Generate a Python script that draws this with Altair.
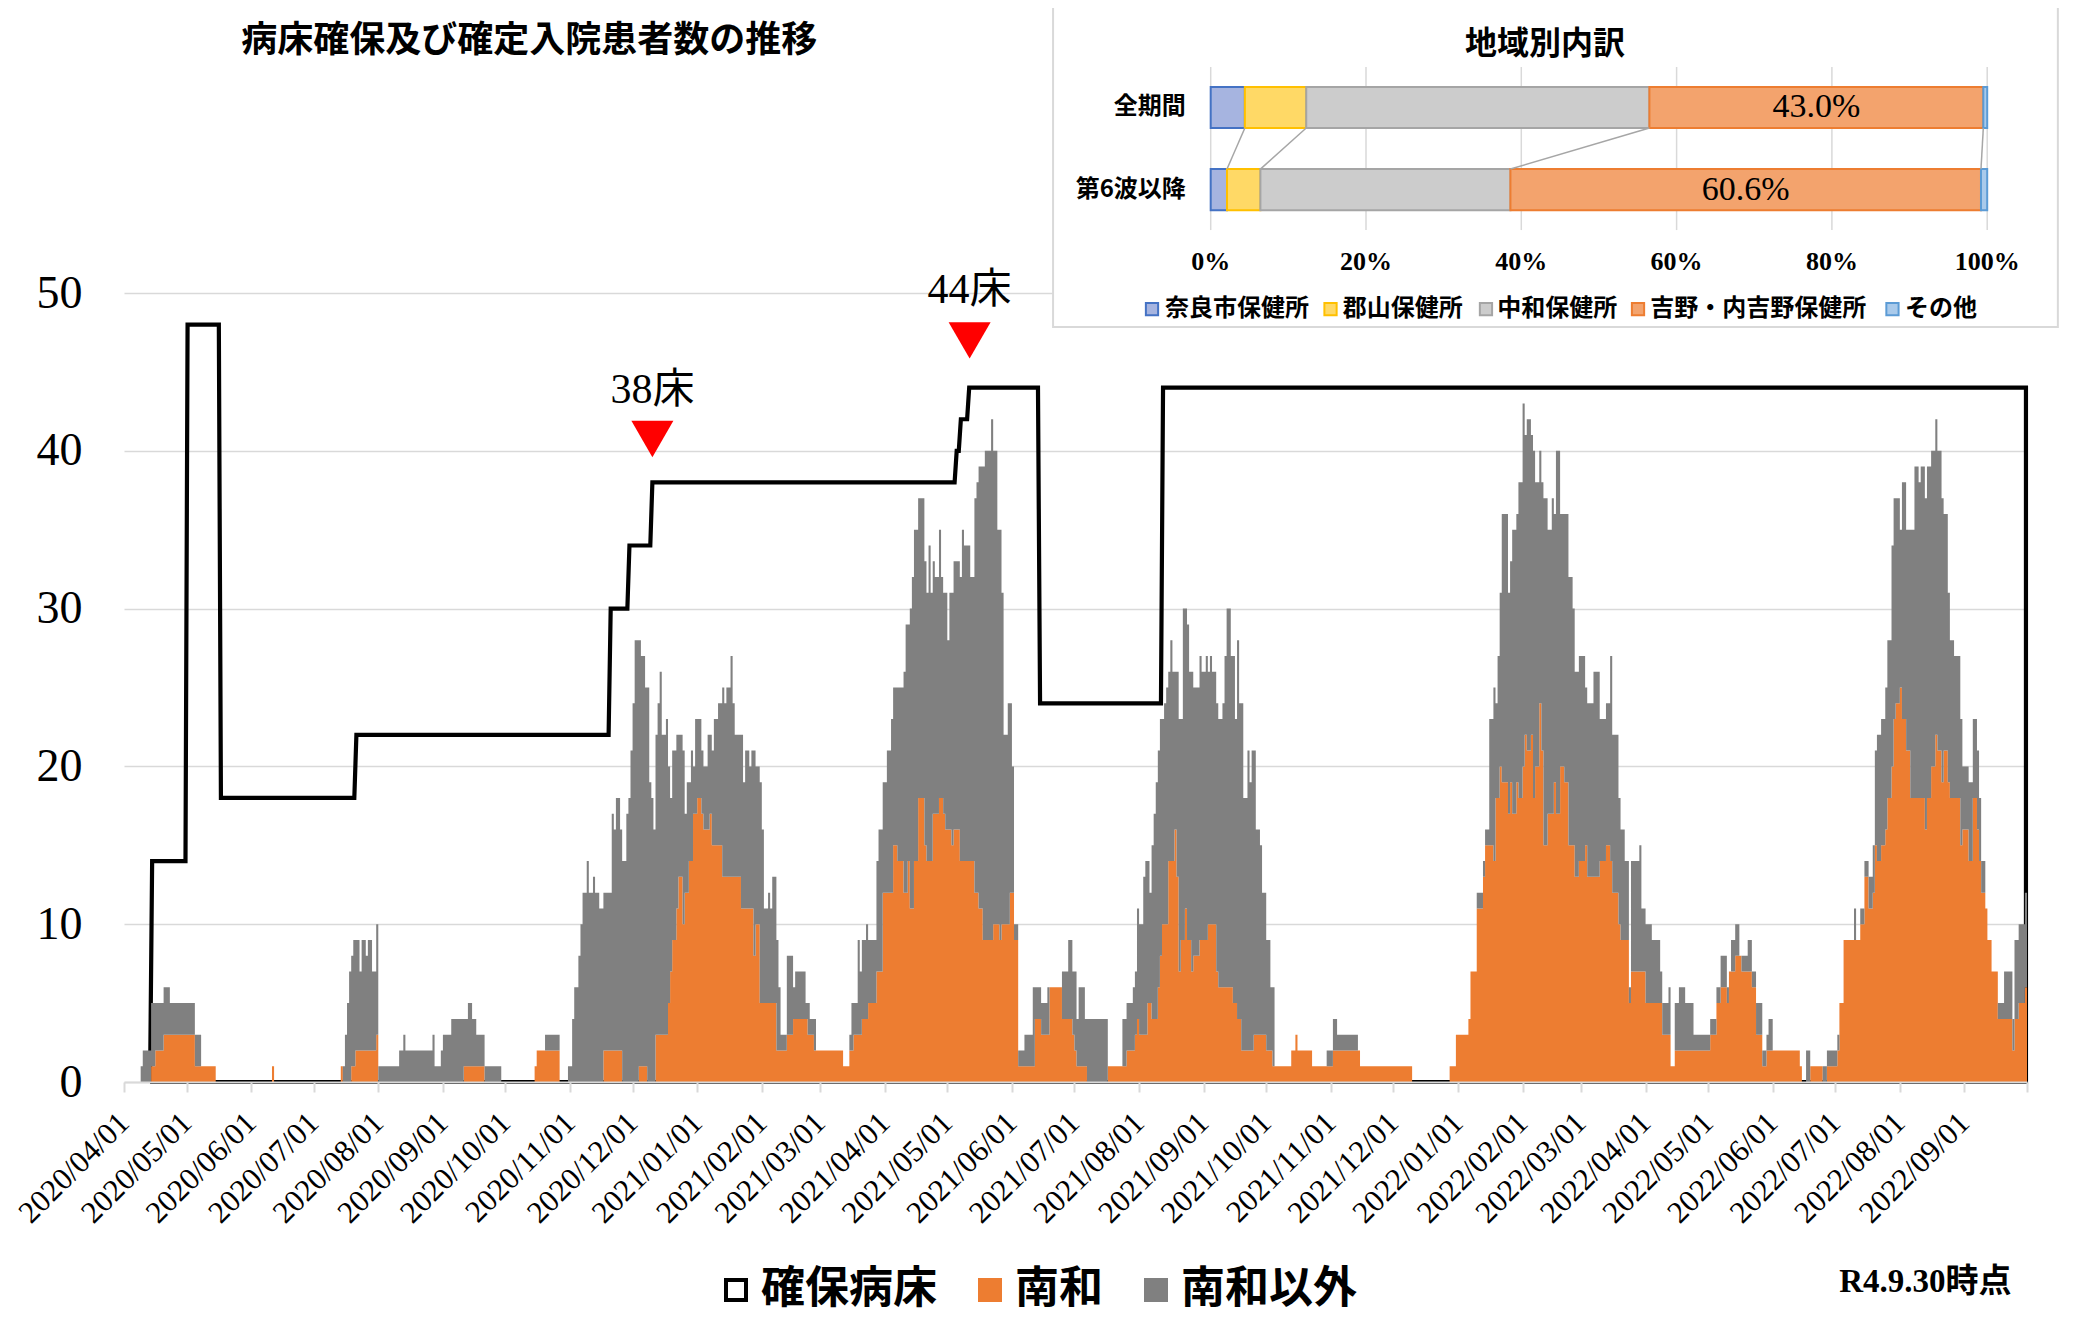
import altair as alt
import pandas as pd

# ---------------------------------------------------------------- data
START_DATE = "2020-04-01"
N_DAYS = 913  # 2020-04-01 ... 2022-09-30
MONTH_TICKS = [d.strftime("%Y-%m-%d") for d in pd.date_range("2020-04-01", "2022-10-01", freq="MS")]

# daily inpatients (day index from 2020-04-01, value from that day on)
total_changes = [
    (0, 0), (8, 1), (9, 2), (13, 5), (19, 6), (22, 5), (34, 3), (37, 1), (44, 0),
    (71, 1), (72, 0),
    (104, 1), (106, 3), (107, 5), (108, 7), (109, 8), (110, 9), (113, 7), (114, 9), (116, 8), (117, 9),
    (119, 7), (121, 10), (122, 1), (132, 2), (134, 3), (135, 2), (148, 3), (149, 1), (152, 2), (153, 3),
    (157, 4), (165, 5), (167, 4), (169, 3), (173, 1), (181, 0),
    (197, 1), (198, 2), (202, 3), (209, 0),
    (213, 1), (215, 4), (216, 6), (218, 8), (219, 10), (220, 12), (222, 14), (223, 12), (225, 13), (226, 12),
    (228, 11), (230, 12), (234, 17), (235, 16), (236, 18), (238, 16), (239, 14), (241, 17), (242, 18),
    (243, 21), (244, 24), (245, 28), (248, 27), (250, 25), (252, 19), (253, 18), (254, 16), (255, 22),
    (256, 24), (257, 26), (258, 22), (260, 23), (261, 20), (262, 18), (263, 21), (265, 22), (268, 21),
    (269, 17), (270, 19), (272, 21), (273, 20), (274, 23), (277, 21), (278, 20), (280, 22), (282, 21),
    (283, 23), (285, 24), (287, 25), (288, 24), (289, 25), (291, 27), (292, 24), (293, 22), (297, 19),
    (298, 21), (300, 20), (301, 21), (303, 20), (305, 19), (306, 16), (307, 11), (309, 12), (310, 11),
    (311, 13), (313, 9), (314, 6), (315, 3), (318, 8), (321, 6), (322, 7), (327, 5), (329, 4), (332, 2),
    (345, 1), (348, 3), (349, 5), (352, 9), (353, 7), (354, 9), (356, 10), (357, 9), (361, 14), (362, 16),
    (364, 19), (366, 21), (368, 23), (369, 25), (374, 26), (375, 29), (377, 30), (378, 32), (379, 35),
    (381, 37), (384, 33), (385, 31), (386, 34), (387, 31), (388, 33), (389, 32), (391, 35), (392, 32),
    (393, 31), (395, 28), (396, 31), (398, 33), (401, 32), (402, 35), (403, 34), (406, 32), (408, 37),
    (409, 38), (410, 39), (413, 40), (416, 42), (417, 40), (419, 35), (421, 31), (422, 22), (424, 24),
    (426, 20), (427, 10), (429, 2), (432, 3), (436, 6), (440, 5), (443, 6), (450, 7), (453, 9), (455, 7),
    (457, 4), (458, 6), (461, 4), (472, 1),
    (479, 4), (481, 5), (484, 6), (485, 7), (486, 11), (487, 10), (489, 13), (490, 14), (492, 12), (493, 15),
    (494, 17), (495, 19), (496, 21), (497, 23), (499, 24), (500, 25), (501, 26), (502, 28), (503, 26),
    (506, 23), (508, 30), (510, 29), (511, 26), (513, 25), (516, 27), (517, 26), (519, 27), (520, 26),
    (521, 27), (522, 26), (524, 24), (525, 23), (527, 24), (528, 27), (529, 30), (531, 27), (533, 23),
    (534, 28), (535, 24), (537, 18), (539, 21), (540, 19), (541, 21), (543, 16), (545, 15), (546, 12),
    (548, 9), (550, 6), (552, 1), (560, 2), (562, 3), (563, 2), (570, 1), (577, 2), (580, 4), (582, 3),
    (592, 2), (593, 1), (618, 0),
    (636, 1), (639, 3), (645, 4), (646, 7), (649, 12), (652, 14), (653, 16), (655, 23), (657, 25), (658, 24),
    (659, 27), (660, 31), (661, 36), (664, 31), (665, 33), (666, 35), (668, 36), (669, 38), (671, 43),
    (672, 41), (673, 42), (675, 41), (676, 40), (677, 38), (679, 40), (680, 38), (681, 37), (683, 35),
    (685, 37), (686, 36), (687, 40), (689, 36), (693, 32), (695, 30), (696, 26), (698, 27), (701, 25),
    (702, 24), (705, 26), (708, 23), (711, 24), (713, 27), (714, 22), (717, 18), (718, 16), (720, 14),
    (722, 6), (723, 14), (727, 15), (728, 11), (730, 10), (733, 9), (737, 7), (738, 5), (741, 6), (742, 1),
    (744, 5), (746, 6), (749, 5), (753, 3), (761, 4), (764, 6), (766, 8), (769, 6), (770, 7), (771, 9),
    (773, 10), (775, 8), (779, 9), (781, 7), (783, 5), (786, 2), (788, 3), (789, 4), (791, 2), (804, 1),
    (805, 0), (807, 2), (809, 1), (817, 2), (822, 3), (823, 5), (825, 9), (830, 11), (831, 9), (833, 11),
    (835, 14), (837, 13), (839, 15), (840, 21), (841, 22), (843, 23), (845, 25), (846, 28), (848, 34),
    (849, 37), (852, 35), (853, 38), (855, 35), (859, 39), (861, 38), (862, 39), (864, 37), (865, 39),
    (867, 40), (869, 42), (870, 40), (872, 37), (873, 36), (875, 31), (876, 28), (878, 27), (881, 23),
    (882, 20), (885, 19), (887, 23), (889, 21), (890, 18), (891, 14), (893, 11), (894, 9), (896, 7),
    (899, 5), (902, 7), (906, 4), (907, 9), (909, 10), (912, 12),
]

nanwa_changes = [
    (0, 0), (13, 1), (15, 2), (19, 3), (34, 1), (44, 0),
    (71, 1), (72, 0),
    (104, 1), (105, 0), (109, 1), (111, 2), (121, 3), (122, 0),
    (163, 1), (173, 0),
    (197, 1), (198, 2), (209, 0),
    (230, 2), (239, 0), (247, 1), (251, 0),
    (255, 3), (261, 5), (262, 7), (263, 9), (265, 11), (266, 13), (268, 10), (269, 12), (271, 14), (273, 17),
    (275, 18), (277, 17), (278, 16), (281, 17), (282, 15), (287, 13), (296, 11), (302, 8), (303, 10),
    (305, 5), (313, 2), (318, 3), (321, 4), (328, 3), (331, 2), (345, 1), (348, 2), (350, 3), (354, 4),
    (357, 5), (361, 7), (364, 12), (369, 15), (371, 14), (374, 12), (376, 14), (377, 11), (379, 14),
    (381, 18), (384, 15), (385, 14), (388, 17), (391, 18), (393, 17), (394, 16), (397, 15), (398, 16),
    (401, 14), (408, 12), (410, 11), (412, 9), (417, 10), (420, 9), (421, 10), (425, 12), (427, 9),
    (429, 1), (437, 4), (440, 3), (444, 6), (450, 4), (455, 3), (456, 2), (457, 1), (462, 0), (472, 1),
    (481, 2), (485, 3), (486, 4), (487, 3), (491, 5), (493, 4), (496, 6), (497, 8), (498, 10), (501, 14),
    (504, 16), (505, 13), (506, 7), (507, 9), (509, 11), (510, 9), (512, 7), (513, 8), (516, 9), (520, 10),
    (524, 7), (525, 6), (532, 5), (534, 4), (536, 2), (542, 3), (548, 2), (551, 1), (560, 2), (562, 3),
    (563, 2), (570, 1), (580, 2), (593, 1), (618, 0),
    (636, 1), (639, 3), (645, 4), (646, 7), (649, 11), (652, 13), (653, 15), (657, 14), (658, 18),
    (660, 20), (661, 19), (664, 17), (665, 19), (666, 17), (668, 19), (669, 18), (671, 20), (672, 22),
    (673, 21), (675, 22), (676, 18), (677, 20), (679, 24), (680, 21), (681, 15), (683, 17), (686, 19),
    (687, 17), (689, 20), (691, 19), (693, 15), (696, 13), (698, 14), (701, 15), (702, 13), (708, 14),
    (711, 15), (713, 14), (714, 12), (717, 10), (718, 9), (722, 5), (723, 7), (730, 5), (738, 3),
    (742, 1), (744, 2), (761, 3), (764, 5), (766, 6), (769, 5), (770, 7), (773, 8), (776, 7), (781, 6),
    (783, 3), (786, 1), (788, 2), (804, 1), (805, 0), (809, 1), (815, 0), (817, 1), (822, 2), (823, 5),
    (825, 9), (833, 10), (835, 13), (837, 11), (839, 12), (840, 15), (841, 14), (843, 15), (845, 16),
    (846, 18), (848, 20), (849, 23), (850, 24), (852, 25), (853, 23), (855, 21), (857, 18), (864, 16),
    (865, 18), (867, 20), (869, 22), (870, 21), (872, 19), (873, 21), (875, 19), (876, 18), (881, 15),
    (882, 16), (885, 14), (887, 18), (889, 16), (890, 14), (891, 12), (893, 11), (894, 9), (896, 7),
    (899, 4), (906, 2), (907, 4), (909, 5), (912, 6),
]

# secured beds
bed_start_day = 12
bed_end_day = 912
bed_changes = [(13, 14), (30, 48), (46, 18), (111, 22), (233, 30), (242, 34), (253, 38),
               (399, 40), (401, 42), (405, 44), (439, 24), (498, 44)]

# annotations
ann_days = [253.5, 405.7]
ann_text = ["38床", "44床"]
ann_tri_v = [40.75, 47.0]
ann_text_v = [43.85, 50.2]

series_names = ["確保病床", "南和", "南和以外"]

# inset (地域別内訳)
regions = ["奈良市保健所", "郡山保健所", "中和保健所", "吉野・内吉野保健所", "その他"]
share_all = [4.4, 7.9, 44.2, 43.0, 0.5]
share_6th = [2.1, 4.3, 32.2, 60.6, 0.8]
row_labels = ["全期間", "第6波以降"]
pct_ticks = [0, 20, 40, 60, 80, 100]

# ---------------------------------------------------------------- styles / layout
ORANGE = "#ED7D31"
GRAY = "#808080"
GRID = "#D9D9D9"
SERIF = "Liberation Serif, Noto Sans CJK JP"
GOTHIC = "Noto Sans CJK JP"
region_fill = ["#A6B4E0", "#FFD966", "#CCCCCC", "#F3A36D", "#A9CAEB"]
region_stroke = ["#4472C4", "#FFC000", "#A5A5A5", "#ED7D31", "#5B9BD5"]
ROW_Y = [3.16, 5.72]
BAR_HALF = 0.64
LEG_SQ_X = [-7.56, 15.43, 35.45, 55.03, 87.8]
LEG_TX_X = [-5.9, 17.0, 36.9, 56.6, 89.4]

# ---------------------------------------------------------------- build tables
base = pd.Timestamp(START_DATE)


def t_iso(dayf):
    return (base + pd.Timedelta(hours=24 * dayf)).strftime("%Y-%m-%dT%H:%M:%SZ")


def t_ms(dayf):
    return int((base + pd.Timedelta(hours=24 * dayf)).value // 10**6)


def expand(changes, n):
    ch = dict(changes)
    out, cur = [], 0
    for d in range(n):
        if d in ch:
            cur = ch[d]
        out.append(cur)
    return out


total = expand(total_changes, N_DAYS)
nanwa = [min(a, b) for a, b in zip(expand(nanwa_changes, N_DAYS), total)]
bed = expand(bed_changes, N_DAYS)

bars_df = pd.DataFrame({
    "date": [t_iso(d) for d in range(N_DAYS + 1)],
    "nanwa": nanwa + [nanwa[-1]],
    "total": total + [total[-1]],
})

pts = [(bed_start_day + 0.5, 0)]
pts += [(d + 0.5, bed[d]) for d in range(bed_start_day + 1, bed_end_day + 1)]
pts += [(bed_end_day + 0.5, 0), (bed_start_day + 0.5, 0)]
bed_df = pd.DataFrame({
    "ord": list(range(len(pts))),
    "date": [t_iso(p[0]) for p in pts],
    "beds": [p[1] for p in pts],
})

end_ms = t_ms(N_DAYS)
xs = alt.Scale(type="utc", domain=[t_ms(0), end_ms], nice=False)
ys = alt.Scale(domain=[0, 50], nice=False)
tick_ms = [int(pd.Timestamp(m).value // 10**6) for m in MONTH_TICKS]

x_axis = alt.Axis(
    values=tick_ms, title=None, grid=False,
    labelExpr=f"datum.value >= {end_ms} ? '' : utcFormat(datum.value, '%Y/%m/%d')",
    labelAngle=-45, labelAlign="right", labelBaseline="middle", labelPadding=26,
    labelFont=SERIF, labelFontSize=31, labelColor="black", labelOverlap=False,
    labelBound=False, labelFlush=False,
    domainColor=GRID, domainWidth=2, tickColor=GRID, tickWidth=2, tickSize=10, zindex=1,
)
y_axis = alt.Axis(
    values=[0, 10, 20, 30, 40, 50], title=None, domain=False, ticks=False,
    grid=True, gridColor=GRID, gridWidth=1.5,
    labelFont=SERIF, labelFontSize=46, labelColor="black", labelPadding=42,
)

X = alt.X("date:T", scale=xs, axis=x_axis)

bed_line = alt.Chart(bed_df).mark_line(color="black", strokeWidth=4.2).encode(
    x=X, y=alt.Y("beds:Q", scale=ys, axis=y_axis), order="ord:Q")

orange = alt.Chart(bars_df).mark_area(interpolate="step-after", color=ORANGE).encode(
    x=X, y=alt.Y("nanwa:Q", scale=ys, axis=y_axis, stack=None))

gray = alt.Chart(bars_df).mark_area(interpolate="step-after", color=GRAY).encode(
    x=X, y=alt.Y("total:Q", scale=ys, axis=y_axis), y2="nanwa:Q")

ann_df = pd.DataFrame({
    "date": [t_iso(d) for d in ann_days],
    "tv": ann_tri_v, "lv": ann_text_v, "text": ann_text,
})
tri = alt.Chart(ann_df).mark_point(shape="triangle-down", filled=True, color="#FF0000",
                                    size=1764, opacity=1, strokeWidth=0).encode(
    x=X, y=alt.Y("tv:Q", scale=ys, axis=y_axis))
tri_lab = alt.Chart(ann_df).mark_text(font=SERIF, fontSize=42, color="black",
                                      align="center", baseline="middle").encode(
    x=X, y=alt.Y("lv:Q", scale=ys, axis=y_axis), text="text:N")

head_df = pd.DataFrame({"date": [t_iso(56.2)], "v": [65.95], "text": ["病床確保及び確定入院患者数の推移"]})
head = alt.Chart(head_df).mark_text(font=GOTHIC, fontSize=36, fontWeight="bold", color="black",
                                    align="left", baseline="middle").encode(
    x=X, y=alt.Y("v:Q", scale=ys, axis=y_axis), text="text:N")

note_df = pd.DataFrame({"date": [t_iso(905.6)], "v": [-12.7], "text": ["R4.9.30時点"]})
note = alt.Chart(note_df).mark_text(font=SERIF, fontSize=33, fontWeight="bold", color="black",
                                    align="right", baseline="middle").encode(
    x=X, y=alt.Y("v:Q", scale=ys, axis=y_axis), text="text:N")

leg_obj = alt.Legend(
    title=None, orient="none", legendX=590, legendY=975, direction="horizontal",
    symbolType="square", symbolSize=400, symbolStrokeWidth=4, symbolOpacity=1,
    labelFont=GOTHIC, labelFontSize=44, labelFontWeight="bold", labelColor="black",
    labelOffset=3, columnPadding=31, padding=0, labelLimit=0,
)
leg_df = pd.DataFrame({"series": series_names, "date": [t_iso(0)] * 3, "v": [-100] * 3})
legend_layer = alt.Chart(leg_df).mark_square(clip=True, size=400).encode(
    x=X, y=alt.Y("v:Q", scale=ys, axis=y_axis),
    fill=alt.Fill("series:N", scale=alt.Scale(domain=series_names, range=["#FFFFFF", ORANGE, GRAY]),
                  legend=leg_obj),
    stroke=alt.Stroke("series:N", scale=alt.Scale(domain=series_names, range=["#000000", ORANGE, GRAY]),
                      legend=leg_obj),
)

main = alt.layer(bed_line, orange, gray, tri, tri_lab, head, note, legend_layer)

# ---------------------------------------------------------------- inset
xi = alt.Scale(domain=[0, 100], range=[1086.7, 1863.2], nice=False, zero=False)
yi = alt.Scale(domain=[0, 10], range=[-287, 34], nice=False, zero=False)


def IX(f):
    return alt.X(f, scale=xi, axis=None)


def IY(f):
    return alt.Y(f, scale=yi, axis=None)


box_df = pd.DataFrame({"x0": [-20.3], "x1": [109.1], "y0": [0.0], "y1": [10.0]})
box = alt.Chart(box_df).mark_rect(fill="white", stroke=GRID, strokeWidth=2).encode(
    x=IX("x0:Q"), x2="x1:Q", y=IY("y0:Q"), y2="y1:Q")

grid_df = pd.DataFrame({"p": pct_ticks, "y0": 1.9, "y1": 6.98})
igrid = alt.Chart(grid_df).mark_rule(color=GRID, strokeWidth=1.5).encode(
    x=IX("p:Q"), y=IY("y0:Q"), y2="y1:Q")

rows = []
cums = []
for r, shares in enumerate([share_all, share_6th]):
    c = 0.0
    cum = []
    for i, s in enumerate(shares):
        rows.append({"row": row_labels[r], "region": regions[i], "start": c, "end": c + s,
                     "mid": c + s / 2, "share": s, "fill": region_fill[i], "stroke": region_stroke[i],
                     "y0": ROW_Y[r] - BAR_HALF, "y1": ROW_Y[r] + BAR_HALF, "yc": ROW_Y[r],
                     "label": f"{s:.1f}%" if i == 3 else ""})
        c += s
        cum.append(c)
    cums.append(cum)
ibars_df = pd.DataFrame(rows)
ibars = alt.Chart(ibars_df).mark_rect(strokeWidth=2).encode(
    x=IX("start:Q"), x2="end:Q", y=IY("y0:Q"), y2="y1:Q",
    fill=alt.Fill("fill:N", scale=None), stroke=alt.Stroke("stroke:N", scale=None))

sl_df = pd.DataFrame({"a": cums[0][:4], "b": cums[1][:4],
                      "ya": ROW_Y[0] + BAR_HALF, "yb": ROW_Y[1] - BAR_HALF})
slines = alt.Chart(sl_df).mark_rule(color="#A6A6A6", strokeWidth=1.5).encode(
    x=IX("a:Q"), x2="b:Q", y=IY("ya:Q"), y2="yb:Q")

ipct = alt.Chart(ibars_df[ibars_df["label"] != ""]).mark_text(
    font=SERIF, fontSize=34, color="black", align="center", baseline="middle").encode(
    x=IX("mid:Q"), y=IY("yc:Q"), text="label:N")

cat_df = pd.DataFrame({"text": row_labels, "y": ROW_Y, "x": -3.2})
icat = alt.Chart(cat_df).mark_text(font=GOTHIC, fontSize=24, fontWeight="bold", color="black",
                                   align="right", baseline="middle").encode(
    x=IX("x:Q"), y=IY("y:Q"), text="text:N")

tick_df = pd.DataFrame({"p": pct_ticks, "text": [f"{p}%" for p in pct_ticks], "y": 7.98})
iticks = alt.Chart(tick_df).mark_text(font=SERIF, fontSize=26, fontWeight="bold", color="black",
                                      align="center", baseline="middle").encode(
    x=IX("p:Q"), y=IY("y:Q"), text="text:N")

ititle_df = pd.DataFrame({"x": [43.05], "y": [1.18], "text": ["地域別内訳"]})
ititle = alt.Chart(ititle_df).mark_text(font=GOTHIC, fontSize=32, fontWeight="bold", color="black",
                                        align="center", baseline="middle").encode(
    x=IX("x:Q"), y=IY("y:Q"), text="text:N")

ileg_df = pd.DataFrame({"region": regions, "sx": LEG_SQ_X, "tx": LEG_TX_X, "y": 9.44,
                        "fill": region_fill, "stroke": region_stroke})
ileg_sq = alt.Chart(ileg_df).mark_square(size=150, strokeWidth=2, opacity=1).encode(
    x=IX("sx:Q"), y=IY("y:Q"),
    fill=alt.Fill("fill:N", scale=None), stroke=alt.Stroke("stroke:N", scale=None))
ileg_tx = alt.Chart(ileg_df).mark_text(font=GOTHIC, fontSize=24, fontWeight="bold", color="black",
                                       align="left", baseline="middle").encode(
    x=IX("tx:Q"), y=IY("y:Q"), text="region:N")

inset = alt.layer(box, igrid, ibars, slines, ipct, icat, iticks, ititle, ileg_sq, ileg_tx)

chart = alt.layer(main, inset).resolve_scale(x="independent", y="independent").properties(
    width=1903, height=789,
    padding={"left": 116, "top": 285, "right": 50, "bottom": 240},
    autosize=alt.AutoSizeParams(type="none"),
).configure_view(stroke=None)

chart.save("out.html", embed_options={"renderer": "svg", "actions": False})
